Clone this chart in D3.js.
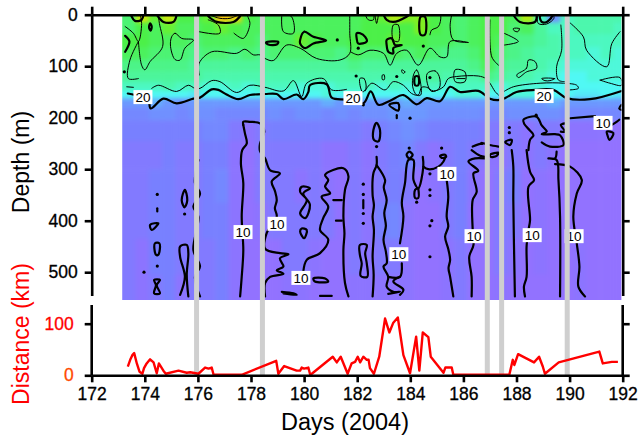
<!DOCTYPE html>
<html><head><meta charset="utf-8">
<script src="https://cdn.jsdelivr.net/npm/d3@7"></script>
<style>
html,body{margin:0;padding:0;background:#fff}
svg{display:block}
text{font-family:"Liberation Sans",Arial,sans-serif}
</style></head><body><svg id="c" width="641" height="440"></svg>
<script>
// ---------- data ----------
const xTicks=[172,174,176,178,180,182,184,186,188,190,192];
const depthTicks=[0,100,200,300,400,500];
const distTicks=[0,100];
const gapDays=[175.95,178.43,186.9,187.44,189.91];
const days=[173.4,173.9,174.4,174.9,175.4,175.9,176.4,176.9,177.4,177.9,178.4,178.9,179.4,179.9,180.4,180.9,181.4,181.9,182.4,182.9,183.4,183.9,184.4,184.9,185.4,185.9,186.4,186.9,187.4,187.9,188.4,188.9,189.4,189.9,190.4,190.9,191.4,191.9];
const depths=[5,25,50,75,100,120,140,155,170,190,220,270,330,400,470,540];
const t005=[26,33,29,33,28,28,29,36,35,28,27,27,27,27,27,27,27,27,28,29,32,30,30,28,27,26,27,28,28,27,32,22,14,22,23,23,23,23];
const t025=[26,28,27,29,27,27,28,29,28,27,27,27,27,27,27,27,27,27,28,28,28,28,30,28,27,26,27,28,28,26,27,24,22,22,23,23,23,22];
const t050=[28,28,27,27,27,26,27,27,27,27,26,27,27,29,28,27,27,28,28,28,29,28,28,27,27,26,27,28,27,25,25,24,23,22,22,22,22,22];
const t075=[27,27,26,26,26,25,26,26,25,26,25,26,26,26,26,26,25,27,26,26,27,26,27,26,25,25,26,28,26,25,24,23,23,22,22,21,22,21];
const t100=[25,25,25,25,25,24,24,24,24,24,24,24,24,24,24,24,24,25,24,24,24,24,24,24,24,24,25,27,25,24,24,23,22,21,21,21,21,21];
const t120=[24,24,24,24,24,24,23,23,23,23,23,23,23,23,23,23,23,23,23,23,23,23,24,24,23,23,23,25,24,23,23,22,21,20,20,21,21,21];
const t140=[22,22,22,23,22,22,21,21,22,21,22,22,22,21,21,21,22,22,22,21,22,21,22,22,21,22,22,22,21,22,21,21,20,20,20,20,20,20];
const t155=[20,20,20,20,20,19,20,20,20,20,20,20,20,20,20,21,20,20,20,20,20,20,20,20,20,21,21,20,20,21,21,20,20,20,19,19,20,19];
const t170=[15,15,16,15,14,15,15,15,15,15,15,15,15,15,15,16,15,15,15,15,15,16,15,15,15,15,15,15,15,15,15,15,16,15,15,15,15,15];
const t190=[13,13,14,14,13,14,14,13,13,13,13,14,13,14,14,13,14,13,14,14,15,15,15,14,14,14,14,13,13,14,14,14,14,13,13,13,13,13];
const t220=[12,12,12,12,12,12,13,13,11,10,11,12,12,12,12,12,12,12,11,12,13,14,13,12,12,12,12,11,11,11,10,11,11,10,10,10,10,9];
const t270=[11,11,11,12,11,11,12,12,10,9,11,11,11,11,11,10,10,11,10,11,12,13,11,10,11,12,11,10,10,11,10,11,10,9,9,9,9,9];
const t330=[11,11,12,12,11,11,12,13,10,9,11,11,11,10,11,10,9,11,10,11,12,11,9,10,11,12,10,9,11,12,9,10,9,9,9,9,9,9];
const t400=[11,11,12,12,11,11,12,12,10,9,10,11,11,11,11,11,9,11,10,12,13,10,9,9,11,12,9,9,11,11,9,10,9,9,9,9,9,9];
const t470=[11,10,12,12,11,11,11,12,10,9,9,9,11,11,10,9,9,11,10,11,11,10,9,9,10,11,9,9,11,10,9,10,9,9,10,9,9,9];
const t540=[11,10,11,12,10,11,11,12,10,9,9,9,10,10,9,9,9,10,10,10,10,10,9,9,10,11,9,9,10,9,9,9,9,9,10,9,9,9];
const tempRows=[t005,t025,t050,t075,t100,t120,t140,t155,t170,t190,t220,t270,t330,t400,t470,t540];
const colorStops=[8,10,12,15,18,20,22,25,28,30,33,36];
const colorValues=["#9870ff","#8c74ff","#7880ff","#6c98ff","#58d8fa","#50f8f4","#4cf8c0","#4cf488","#4cf048","#80f020","#c8e810","#f8c810"];

const contour20=[[173.36,153],[173.63,156],[174.13,166],[174.22,182],[174.7,163],[175.2,172],[175.83,163],[176.08,161],[176.52,145],[176.77,146],[177.08,155],[177.52,164],[177.96,156],[178.53,154],[178.97,154],[179.22,164],[179.72,155],[179.97,164],[180.16,150],[180.22,137],[180.85,135],[181.04,161],[181.6,165],[182.23,172],[182.51,149],[182.8,175],[183.24,167],[183.74,156],[184.24,174],[184.62,162],[185.12,168],[185.5,140],[185.87,150],[186.56,148],[187,163],[187.3,166],[187.57,162],[188,150],[188.7,146],[189.39,146],[189.89,162],[190.77,164],[191.96,148]];
const thickOpen=[
 [[173.26,41],[173.42,52],[173.26,72]],
 [[173.5,3],[173.63,12],[173.88,10],[173.95,0]],
 [[174.45,0],[174.7,14],[175.08,14],[175.2,0]],
 [[176.39,3],[176.71,14],[177.34,14],[177.59,3]],
 [[182.99,0],[183.11,10],[183.36,14],[183.86,4],[183.96,0]],
 [[187.88,0],[188.13,14],[188.7,14],[188.76,0]],
 [[177.71,214],[177.77,230],[177.84,250],[177.67,263],[177.62,289],[177.71,327],[177.65,392],[177.71,457],[177.65,509],[177.59,547]],
 [[177.71,214],[177.71,208],[177.96,208],[178.34,211],[178.5,227],[178.34,250],[178.34,265],[178.53,279],[178.72,302],[179.09,308],[178.78,324],[178.9,342],[178.97,360],[178.9,376],[178.97,392],[178.59,424],[178.53,454],[179.09,463],[179.41,465],[179.09,473],[179.22,489],[178.97,496],[179.22,503],[178.72,509],[178.53,521],[178.53,547]],
 [[181.67,547],[181.54,521],[181.48,457],[181.52,425],[181.48,392],[181.54,340],[181.67,314],[181.48,298],[180.79,311],[180.91,321],[180.79,334],[180.98,347],[180.66,353],[180.91,373],[180.72,395],[180.6,418],[180.91,437],[180.6,463],[180.1,476],[179.97,499]],
 [[179.16,538],[179.6,541],[179.72,544],[179.22,541]],
 [[181.1,360],[181.42,360]],[[181.2,400],[181.42,400]],
 [[180.6,546],[181.04,546]],
 [[174.47,376],[174.47,382]],
 [[175.33,544],[175.51,509],[175.33,470],[175.33,450],[175.58,447],[175.64,463],[175.58,505],[175.64,547]],
 [[176.02,282],[175.89,327],[176.08,347],[175.83,373],[176.02,392],[175.83,457],[176.08,489],[175.89,509],[176.08,547]],
 [[182.73,276],[182.73,292],[182.61,308],[182.58,350],[182.63,370],[182.58,392],[182.63,418],[182.58,470],[182.62,505],[182.58,547]],
 [[182.73,292],[183.05,321],[183.0,335],[183.11,360],[183.02,385],[183.08,410],[182.99,437],[183.08,460],[183.11,483],[182.99,489],[183.17,509],[183.11,528],[183.36,538],[183.61,538],[183.17,542]],
 [[183.17,509],[183.61,509],[183.68,483]],
 [[183.61,444],[183.74,392],[183.68,365],[183.8,327],[183.93,282],[184.12,282],[184.12,321],[184.3,337],[184.49,295],[184.47,276]],
 [[184.3,337],[184.3,356],[184.18,356],[184.18,340],[184.3,337]],
 [[184.49,295],[184.68,300],[185.06,295],[185.25,285],[185.31,277]],
 [[183.61,509],[183.36,518],[183.74,534],[183.61,544]],
 [[185.37,321],[185.43,353],[185.37,392],[185.43,411],[185.31,431],[185.43,455],[185.5,476],[185.44,492],[185.5,509],[185.62,547]],
 [[186.31,263],[186.63,274],[186.81,276]],
 [[186.81,279],[186.44,279],[186.19,285],[186.56,303],[186.38,308],[186.5,344],[186.35,360],[186.35,418],[186.38,447],[186.22,470],[186.31,509],[186.31,547]],
 [[187.82,263],[187.88,295],[187.88,360],[187.94,547]],
 [[188.45,263],[188.51,243],[188.64,234],[188.51,225],[188.29,212],[188.26,204],[188.76,198],[188.95,215],[189.14,227],[188.95,232],[189.45,232],[189.64,234],[189.77,253],[189.26,256],[188.95,248]],
 [[188.38,263],[188.51,305],[188.66,321],[188.45,334],[188.51,399],[188.45,418],[188.38,450],[188.38,509],[188.28,528],[188.32,547]],
 [[189.51,266],[189.45,279],[189.2,279],[189.51,282],[189.58,321],[189.64,392],[189.64,547]],
 [[189.45,290],[190.02,295],[190.46,321],[190.27,347],[190.14,392],[190.27,444],[190.37,489],[190.33,528],[190.58,547]],
 [[186.35,256],[186.75,250],[186.98,253],[187.32,256]],
 [[190.02,201],[190.96,197]],
 [[191.59,214],[191.77,208],[191.87,204]],
 [[189.83,211],[189.67,214],[189.83,227],[189.67,227]],
 [[191.96,175],[191.87,182],[191.96,185]],
 [[182.23,360],[182.23,376]],[[183.49,195],[183.49,201]]
];
const thickClosed=[
 [[174.2,17],[174.26,23],[174.22,31],[174.16,25]],
 [[179.85,49],[180,33],[180.35,43],[180.83,50],[180.35,56],[180.04,65],[179.85,56]],
 [[178.57,54],[179.03,53],[178.97,58],[178.65,58]],
 [[181.98,36],[182.11,36],[182.3,43],[182.36,52],[182.04,56],[181.98,46]],
 [[183.11,49],[183.3,46],[183.43,59],[183.68,59],[183.36,65],[183.36,75],[183.17,72],[183.11,59]],
 [[184.39,4],[184.55,4],[184.55,39],[184.39,39]],
 [[188.89,2],[188.95,14],[189.14,14],[189.33,4],[189.33,1]],
 [[184.18,120],[184.3,120],[184.3,137],[184.18,137]],
 [[179.91,334],[180.22,337],[179.97,347],[180.22,369],[180.04,395],[179.85,386],[180.1,360],[179.85,344]],
 [[179.91,415],[180.1,418],[180,434],[179.85,421]],
 [[180.35,512],[180.79,512],[180.91,518],[180.41,518]],
 [[175.39,360],[175.51,340],[175.6,360],[175.5,374]],
 [[174.2,408],[174.51,405],[174.26,418]],
 [[174.38,444],[174.55,444],[174.51,466],[174.42,466]],
 [[174.35,515],[174.57,515],[174.45,525],[174.57,541],[174.35,541],[174.42,525]],
 [[183.86,272],[183.96,266],[184.09,272],[183.96,279]],
 [[185.12,274],[185.31,272],[185.35,276],[185.18,278]],
 [[187,272],[187.32,268],[187.25,274],[187.03,276]],
 [[182.1,447],[182.36,447],[182.3,463],[182.36,483],[182.38,509],[182.13,507],[182.17,483],[182.1,466]],
 [[182.73,210],[182.86,224],[182.8,246],[182.63,243],[182.61,224]],
 [[183.21,175],[183.55,172],[183.55,186],[183.36,182]],
 [[187.57,247],[187.82,243],[187.76,253]],
 [[191.4,227],[191.65,230],[191.5,243],[191.42,233]]
];
const thinOpen=[
 [[173.26,23],[173.57,36],[173.76,52],[173.88,17],[173.82,0]],
 [[173.76,52],[173.44,88],[173.38,124],[173.76,124]],
 [[173.76,52],[173.88,98],[174,107],[174.2,91],[174.67,62],[174.55,17],[174.5,0]],
 [[176.05,33],[176.83,36],[176.77,20],[176.39,10]],
 [[177.36,36],[177.71,46],[177.96,17],[177.84,0]],
 [[179.16,0],[179.22,33],[179.6,36],[179.53,4],[179.28,0]],
 [[176.05,117],[176.05,94],[176.52,72],[177.46,75],[177.77,67],[178.09,78],[178.34,78],[178.53,85],[178.84,89],[179.34,59],[179.85,65],[180.47,85],[181.35,88],[181.72,75],[181.72,36],[181.72,0]],
 [[173.32,140],[173.57,141]],
 [[174.26,143],[174.51,137],[175.2,149],[175.64,137],[175.89,143],[176.08,143],[176.52,128],[176.83,130],[177.46,151],[177.96,137],[178.53,141],[179.22,148],[179.6,128],[179.91,159],[180.1,133],[180.72,124],[181.04,146],[181.6,145]],
 [[182.3,148],[182.55,133],[183.05,146],[183.36,130],[183.74,137],[184.05,153],[184.3,156],[184.43,141],[184.62,141],[184.87,148],[185.25,140],[185.43,124],[185.75,120],[186.56,119],[186.85,124],[187,133],[187.19,149],[187.32,156]],
 [[187.53,149],[187.88,140],[188.89,133],[189.77,133],[190.27,137],[190.33,143],[190.02,146]],
 [[181.75,72],[182.04,78],[182.48,69],[182.99,75],[183.24,98],[183.49,75],[183.86,69],[184.3,98],[184.74,65],[185.12,82],[185.37,82],[185.5,52],[186.19,54],[185.62,49],[185.5,23],[185.56,0]],
 [[185.75,124],[186.06,124]],
 [[184.74,39],[184.8,30],[185.06,23],[185.15,4],[185.12,0]],
 [[182.3,0],[182.42,10],[182.61,10],[182.63,0]],
 [[182.67,0],[182.73,17],[182.8,0]],
 [[190.02,16],[190.52,43],[190.64,69],[191.4,101],[191.59,56],[191.9,33]],
 [[191.15,127],[191.9,122],[191.96,137],[191.52,133],[191.15,127]],
 [[187.53,36],[188.07,52],[187.53,59]],
 [[189.67,20],[189.7,69],[189.51,101],[189.58,127],[189.83,130]],
 [[187,10],[187.07,82],[187.32,98]],
 [[188.79,0],[188.82,17],[189.14,18],[189.41,7],[189.39,0]],
 [[176.52,2],[176.83,7],[177.21,7],[177.46,2]]
];
const thinClosed=[
 [[175.01,43],[175.14,36],[175.39,46],[175.83,49],[175.51,65],[175.33,88],[175.14,87],[174.97,62]],
 [[185.69,107],[186.06,111],[186.06,130],[185.69,130]],
 [[182.1,124],[182.26,124],[182.33,143],[182.2,150]],
 [[182.95,117],[183.02,117],[183.02,126],[182.95,126]],
 [[183.68,107],[183.8,111],[183.74,114],[183.68,111]],
 [[184.12,117],[184.24,107],[184.37,127],[184.39,156],[184.24,156],[184.09,140]],
 [[184.64,114],[184.93,109],[185.09,120],[185.09,143],[184.8,149],[184.64,133]],
 [[183.36,20],[183.55,20],[183.55,52],[183.36,49]],
 [[188.01,117],[188.38,104],[188.45,88],[188.7,91],[188.76,104],[188.38,111],[188.07,122]],
 [[187.88,27],[188.11,27],[188.05,33],[187.91,31]],
 [[188.95,124],[189.45,124],[189.26,128],[189.07,128]]
];
const dotDays=[173.23,181.96,181.25,182.04,184.49,183.49,184.74,174.47,175.5,174.47,173.97,184.74,184.74,184.74,184.81,184.74,184.74,184.24,182.23,182.23,182.23,182.23,182.73,183.96,185.18,183.99,182.23,187.73,187.73,188.74,186.69];
const dotDepths=[111,119,49,65,61,120,122,349,387,488,500,309,340,351,400,410,470,364,329,349,386,405,256,259,259,201,175,219,229,195,250];
const labelText=["20","20","20","10","10","10","10","10","10","10","10","10"];
const labelDays=[173.93,181.84,189.04,177.7,178.98,179.88,185.38,183.57,186.4,188.59,190.17,191.26];
const labelDepths=[160,162,158,422,406,511,309,465,430,428,430,210];
const distDays=[173.36,173.45,173.53,173.6,173.7,173.8,173.91,173.97,174.07,174.2,174.33,174.45,174.53,174.7,174.79,175.27,175.58,175.71,176.02,176.27,176.4,176.52,176.59,177.65,178.95,179.03,179.25,179.72,179.85,179.91,180,180.16,180.23,180.29,181.08,181.23,181.38,181.64,181.79,181.92,182.02,182.11,182.23,182.36,182.43,182.48,182.63,182.83,183.05,183.21,183.36,183.53,183.74,183.99,184.22,184.34,184.47,184.68,184.77,185.25,185.32,185.56,185.62,187.73,187.86,187.92,188.06,188.66,188.85,188.99,189.07,189.59,191.12,191.25,191.59,191.82];
const distKm=[17,30,39,43,23,7,3,14,23,31,25,4,23,9,3,9,5,6,3,15,13,15,1,1,28,3,18,9,9,15,13,15,1,3,36,25,36,3,23,26,36,25,36,30,30,14,3,36,110,83,102,112,39,4,75,9,83,74,36,5,15,15,1,1,30,20,41,25,36,17,3,25,46,23,26,26];

// ---------- layout ----------
const svg=d3.select("#c");
const x=d3.scaleLinear().domain([172,192]).range([91.7,622.7]);
const yD=d3.scaleLinear().domain([0,545]).range([14.7,295.4]);
const yK=d3.scaleLinear().domain([0,100]).range([375.3,323.7]);
const color=d3.scaleLinear().domain(colorStops).range(colorValues);

const defs=svg.append("defs");
defs.append("clipPath").attr("id","hc").append("rect")
 .attr("x",x(173.15)).attr("y",yD(0)).attr("width",x(191.95)-x(173.15)).attr("height",yD(554)-yD(0));
const f=defs.append("filter").attr("id","bl").attr("filterUnits","userSpaceOnUse")
 .attr("x",60).attr("y",-30).attr("width",620).attr("height",380)
 .attr("color-interpolation-filters","sRGB");
f.append("feGaussianBlur").attr("stdDeviation",2);

// heat field
const heat=svg.append("g").attr("clip-path","url(#hc)").append("g").attr("filter","url(#bl)");
const halfDay=(days[1]-days[0])/2;
const rowEdge=i=>{
 if(i<=0) return yD(depths[0])-30;
 if(i>=depths.length) return yD(depths[depths.length-1])+30;
 return yD((depths[i-1]+depths[i])/2);
};
tempRows.forEach((row,r)=>{
 heat.selectAll(null).data(row).join("rect")
  .attr("x",(v,c)=>c===0?x(days[c]-halfDay)-30:x(days[c]-halfDay))
  .attr("width",(v,c)=>{const l=c===0?x(days[c]-halfDay)-30:x(days[c]-halfDay);const rr=c===days.length-1?x(days[c]+halfDay)+30:x(days[c]+halfDay);return rr-l+0.5;})
  .attr("y",rowEdge(r)).attr("height",rowEdge(r+1)-rowEdge(r)+0.5)
  .attr("fill",v=>color(v));
});

// contours
const lineO=d3.line().x(d=>x(d[0])).y(d=>yD(d[1])).curve(d3.curveCatmullRom.alpha(0.5));
const lineC=d3.line().x(d=>x(d[0])).y(d=>yD(d[1])).curve(d3.curveCatmullRomClosed.alpha(0.5));
const cg=svg.append("g").attr("fill","none").attr("stroke","#000").attr("stroke-linecap","round").attr("stroke-linejoin","round").attr("clip-path","url(#hc)");
cg.selectAll(null).data(thinOpen).join("path").attr("d",lineO).attr("stroke-width",1);
cg.selectAll(null).data(thinClosed).join("path").attr("d",lineC).attr("stroke-width",1);
cg.selectAll(null).data(thickOpen).join("path").attr("d",lineO).attr("stroke-width",2.2);
cg.selectAll(null).data(thickClosed).join("path").attr("d",lineC).attr("stroke-width",2.2);
cg.append("path").datum(contour20).attr("d",lineO).attr("stroke-width",2.2);
svg.append("g").selectAll("circle").data(dotDays).join("circle")
 .attr("cx",d=>x(d)).attr("cy",(d,i)=>yD(dotDepths[i])).attr("r",1.6).attr("fill","#000");

// contour labels
const lg=svg.append("g");
labelText.forEach((t,i)=>{
 const cx=x(labelDays[i]),cy=yD(labelDepths[i]);
 lg.append("rect").attr("x",cx-9.5).attr("y",cy-7).attr("width",19).attr("height",14).attr("fill","#fff");
 lg.append("text").attr("x",cx).attr("y",cy+4.8).attr("text-anchor","middle").attr("font-size",13.5).attr("fill","#000").text(t);
});

// gap bars
svg.append("g").selectAll("rect").data(gapDays).join("rect")
 .attr("x",d=>x(d)-2.5).attr("width",5).attr("y",yD(0)).attr("height",yK(0)-yD(0)).attr("fill","#cfcfcf");

// distance line
svg.append("path").datum(distDays.map((d,i)=>[d,distKm[i]]))
 .attr("d",d3.line().x(d=>x(d[0])).y(d=>yK(d[1])))
 .attr("fill","none").attr("stroke","#ff0000").attr("stroke-width",2.4).attr("stroke-linejoin","round");

// axes
function style(g,w){
 g.selectAll("path,line").attr("stroke","#000").attr("stroke-width",w);
 g.selectAll("text").attr("font-size",17.5).attr("fill","#000").attr("stroke","#000").attr("stroke-width",0.3);
}
const xBottom=svg.append("g").attr("transform","translate(0,"+yK(0)+")")
 .call(d3.axisBottom(x).tickValues(xTicks).tickSize(7).tickPadding(5).tickSizeOuter(0));
style(xBottom,2.6);
const xTop=svg.append("g").attr("transform","translate(0,"+yD(0)+")")
 .call(d3.axisTop(x).tickValues(xTicks).tickSize(8).tickFormat("").tickSizeOuter(0));
style(xTop,2.6);
const topRight=svg.append("g").attr("transform","translate("+x(192)+",0)")
 .call(d3.axisRight(yD).tickValues(depthTicks).tickSize(7).tickFormat("").tickSizeOuter(0));
style(topRight,2.6);
const topLeft=svg.append("g").attr("transform","translate("+x(172)+",0)")
 .call(d3.axisLeft(yD).tickValues(depthTicks).tickSize(7).tickPadding(7).tickSizeOuter(0));
style(topLeft,2.6);
const kLeft=svg.append("g").attr("transform","translate("+x(172)+",0)")
 .call(d3.axisLeft(yK).tickValues(distTicks).tickSize(7).tickPadding(11).tickSizeOuter(0));
style(kLeft,2.6);
kLeft.select(".domain").remove();
const kRight=svg.append("g").attr("transform","translate("+x(192)+",0)")
 .call(d3.axisRight(yK).tickValues(distTicks).tickSize(7).tickFormat("").tickSizeOuter(0));
style(kRight,2.6);
kRight.select(".domain").remove();
[x(172),x(192)].forEach(px=>svg.append("line").attr("x1",px).attr("x2",px).attr("y1",305).attr("y2",yK(0)).attr("stroke","#000").attr("stroke-width",2.6));
kLeft.selectAll("text").attr("fill",d=>d===0?"#ff4a00":"#ff0000").attr("stroke",d=>d===0?"#ff4a00":"#ff0000");

// titles
svg.append("text").attr("x",345).attr("y",430).attr("text-anchor","middle").attr("font-size",23.5).text("Days (2004)");
svg.append("text").attr("transform","translate(29,162) rotate(-90)").attr("text-anchor","middle").attr("font-size",23).text("Depth (m)");
svg.append("text").attr("transform","translate(29,334) rotate(-90)").attr("text-anchor","middle").attr("font-size",23).attr("fill","#ff0000").text("Distance (km)");
</script></body></html>
